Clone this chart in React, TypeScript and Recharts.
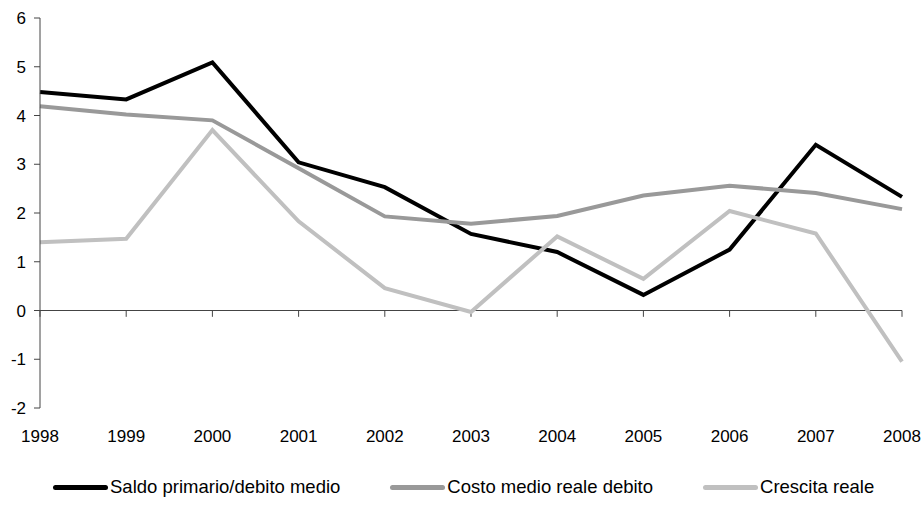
import { LineChart, Line, XAxis, YAxis, ReferenceLine } from "recharts";

const YEARS = ["1998", "1999", "2000", "2001", "2002", "2003", "2004", "2005", "2006", "2007", "2008"];
const SALDO = [4.48, 4.33, 5.09, 3.04, 2.53, 1.57, 1.2, 0.32, 1.25, 3.4, 2.33];
const COSTO = [4.19, 4.02, 3.9, 2.92, 1.93, 1.78, 1.94, 2.36, 2.56, 2.41, 2.08];
const CRESCITA = [1.4, 1.47, 3.7, 1.83, 0.46, -0.03, 1.52, 0.65, 2.04, 1.58, -1.05];
const Y_TICKS = [-2, -1, 0, 1, 2, 3, 4, 5, 6];

const SERIES = [
  { key: "saldo", name: "Saldo primario/debito medio", color: "#000000" },
  { key: "costo", name: "Costo medio reale debito", color: "#999999" },
  { key: "crescita", name: "Crescita reale", color: "#c0c0c0" },
];

const data = YEARS.map((year, i) => ({
  year,
  saldo: SALDO[i],
  costo: COSTO[i],
  crescita: CRESCITA[i],
}));

const FONT = "'Liberation Sans', Arial, sans-serif";
const AXIS = "#444444";

export default function App() {
  return (
    <div
      style={{
        position: "absolute",
        left: 0,
        top: 0,
        width: 923,
        height: 510,
        background: "#fff",
        fontFamily: FONT,
      }}
    >
      <LineChart
        width={923}
        height={510}
        data={data}
        margin={{ top: 18, right: 21, left: 0, bottom: 72 }}
      >
        <XAxis
          dataKey="year"
          axisLine={false}
          tickLine={false}
          tickSize={0}
          tickMargin={22}
          interval={0}
          height={30}
          tick={{ fill: "#000", fontSize: 17, fontFamily: FONT }}
        />
        <YAxis
          width={40}
          domain={[-2, 6]}
          ticks={Y_TICKS}
          interval={0}
          tickSize={6}
          tickMargin={8}
          axisLine={{ stroke: AXIS }}
          tickLine={{ stroke: AXIS }}
          tick={{ fill: "#000", fontSize: 17, fontFamily: FONT }}
        />
        <ReferenceLine y={0} stroke={AXIS} strokeWidth={1} />
        {YEARS.map((y) => (
          <ReferenceLine
            key={y}
            segment={[
              { x: y, y: 0 },
              { x: y, y: -0.13 },
            ]}
            stroke={AXIS}
            strokeWidth={1}
            ifOverflow="visible"
          />
        ))}
        {SERIES.map((s) => (
          <Line
            key={s.key}
            type="linear"
            dataKey={s.key}
            name={s.name}
            stroke={s.color}
            strokeWidth={4}
            dot={false}
            activeDot={false}
            isAnimationActive={false}
          />
        ))}
      </LineChart>
      <div
        style={{
          position: "absolute",
          left: 53,
          top: 476,
          display: "flex",
          alignItems: "center",
          gap: 50,
          fontSize: 18.5,
          color: "#000",
          whiteSpace: "nowrap",
        }}
      >
        {SERIES.map((s) => (
          <div key={s.key} style={{ display: "flex", alignItems: "center" }}>
            <span
              style={{
                display: "inline-block",
                width: 55,
                height: 5,
                borderRadius: 3,
                background: s.color,
                marginRight: 2,
              }}
            />
            <span>{s.name}</span>
          </div>
        ))}
      </div>
    </div>
  );
}
